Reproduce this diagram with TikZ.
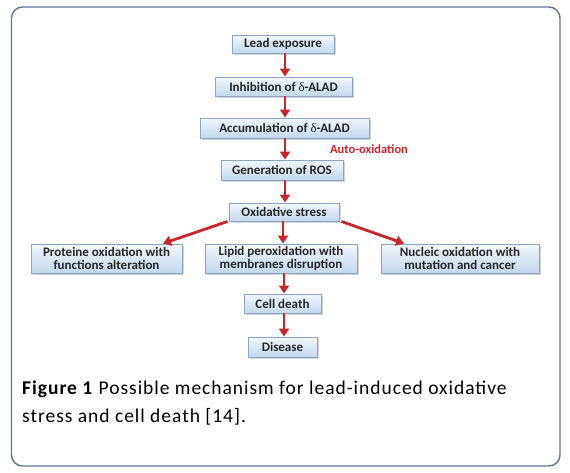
\documentclass[tikz,border=0pt]{standalone}
\usepackage{fontspec}
\setmainfont{Carlito}
\newfontfamily\grk{Liberation Serif}
\newfontfamily\capfont[LetterSpace=5]{Carlito}
\usetikzlibrary{arrows.meta,shadows}
\definecolor{frame}{HTML}{5F7795}
\definecolor{boxborder}{HTML}{8AA6C4}
\definecolor{boxtop}{HTML}{F2F7FC}
\definecolor{boxbot}{HTML}{C3D8EC}
\definecolor{arrowred}{HTML}{C8262B}
\begin{document}
\begin{tikzpicture}[x=1pt,y=-1pt,
  stepbox/.style={draw=boxborder, line width=0.9pt, top color=boxtop, bottom color=boxbot,
    drop shadow={shadow xshift=1.6pt, shadow yshift=-1.6pt, opacity=0.35},
    font=\fontsize{13}{12.5}\selectfont\bfseries, align=center, inner sep=0pt, text=black!85},
  flow/.style={draw=arrowred, line width=2.8pt, -{Triangle[width=10pt,length=8pt]}}]
\useasboundingbox (0,0) rectangle (570,472);
\draw[frame, line width=1.4pt, rounded corners=11pt] (11.5,7) rectangle (560,466);
\node[stepbox, minimum width=102pt, minimum height=18pt] (lead) at (283,44) {Lead exposure};
\node[stepbox, minimum width=137pt, minimum height=19pt] (inh) at (283.5,86.5) {Inhibition of {\grk\mdseries δ}-ALAD};
\node[stepbox, minimum width=169pt, minimum height=20pt] (acc) at (284.5,128) {Accumulation of {\grk\mdseries δ}-ALAD};
\node[stepbox, minimum width=122pt, minimum height=20pt] (ros) at (282,170) {Generation of ROS};
\node[stepbox, minimum width=110pt, minimum height=18pt] (ox) at (284,212) {Oxidative stress};
\node[stepbox, minimum width=151pt, minimum height=29pt] (prot) at (106.5,258.5) {Proteine oxidation with\\functions alteration};
\node[stepbox, minimum width=152pt, minimum height=29pt] (lip) at (281,258.5) {Lipid peroxidation with\\membranes disruption};
\node[stepbox, minimum width=158pt, minimum height=29pt] (nuc) at (460,258.5) {Nucleic oxidation with\\mutation and cancer};
\node[stepbox, minimum width=77pt, minimum height=19pt] (cell) at (282.5,303.5) {Cell death};
\node[stepbox, minimum width=69pt, minimum height=20pt] (dis) at (282.5,347) {Disease};
\node[text=arrowred, font=\fontsize{12.5}{13}\selectfont\bfseries] (auto) at (369,149) {Auto-oxidation};
\draw[flow] (lead.south -| 285,0) -- (inh.north -| 285,0);
\draw[flow] (inh.south -| 285,0) -- (acc.north -| 285,0);
\draw[flow] (acc.south -| 285,0) -- (ros.north -| 285,0);
\draw[flow] (ros.south -| 285,0) -- (ox.north -| 285,0);
\draw[flow] (ox.south -| 283,0) -- (lip.north -| 283,0);
\draw[flow] (ox.south west) ++(-1,0) coordinate (oxl) (oxl) -- (163,243.5) coordinate (protin);
\draw[flow] (ox.south east) ++(2,0) coordinate (oxr) (oxr) -- (404,243.5) coordinate (nucin);
\draw[flow] (lip.south -| 284,0) -- (cell.north -| 284,0);
\draw[flow] (cell.south -| 284,0) -- (dis.north -| 284,0);
\node[anchor=north west, align=left, font=\capfont\fontsize{19.5}{27.5}\selectfont, inner sep=0pt] (cap) at (22,381)
  {\textbf{Figure 1} Possible mechanism for lead-induced oxidative\\stress and cell death [14].};
\end{tikzpicture}
\end{document}
